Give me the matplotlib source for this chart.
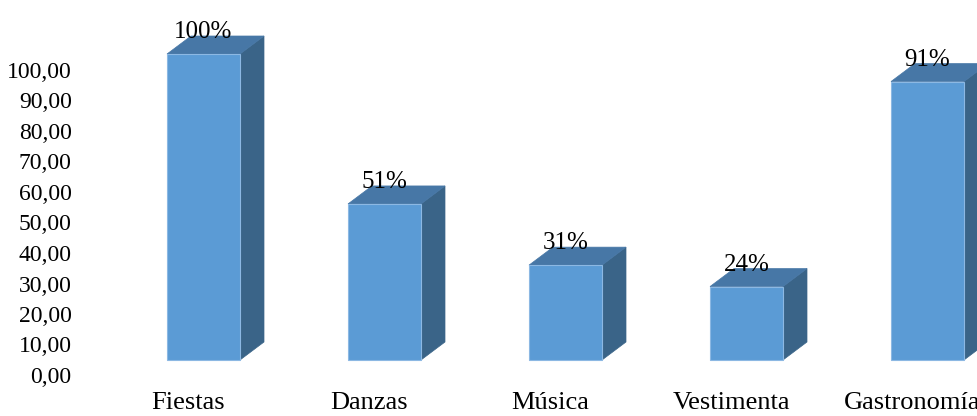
import matplotlib
matplotlib.use("Agg")
import matplotlib.pyplot as plt
from matplotlib.patches import Polygon
from matplotlib.ticker import FuncFormatter

categories = ["Fiestas", "Danzas", "Música", "Vestimenta", "Gastronomía"]
values = [100, 51, 31, 24, 91]
value_labels = ["100%", "51%", "31%", "24%", "91%"]
yticks = [0, 10, 20, 30, 40, 50, 60, 70, 80, 90, 100]

plt.rcParams['font.family'] = ['Liberation Serif', 'DejaVu Serif']

W, H = 978, 416
fig = plt.figure(figsize=(W / 100, H / 100), dpi=100)

# main drawing axes covering the whole figure
ppu = 3.06          # pixels per value unit
cat_px = 181.0      # pixels per category
x0_px = 203.5       # center of first category in px
base_px = 56        # pixel (from bottom) of value 0 front face
ax = fig.add_axes([0, 0, 1, 1])
ax.set_xlim(-x0_px / cat_px, (W - x0_px) / cat_px)
ax.set_ylim(-base_px / ppu, (H - base_px) / ppu)
ax.axis('off')

bw = 73 / cat_px
dx = 24 / cat_px
dy = 18 / ppu

front_c = '#5B9BD5'
top_c = '#4777A6'
side_c = '#3A6488'
edge_c = '#8CB8E3'

for i, v in enumerate(values):
    xl, xr = i - bw / 2, i + bw / 2
    side = Polygon([(xr, 0), (xr + dx, dy), (xr + dx, v + dy), (xr, v)],
                   closed=True, facecolor=side_c, edgecolor=side_c, lw=0.5)
    top = Polygon([(xl, v), (xr, v), (xr + dx, v + dy), (xl + dx, v + dy)],
                  closed=True, facecolor=top_c, edgecolor=top_c, lw=0.5)
    front = Polygon([(xl, 0), (xr, 0), (xr, v), (xl, v)],
                    closed=True, facecolor=front_c, edgecolor=edge_c, lw=0.8)
    ax.add_patch(side)
    ax.add_patch(top)
    ax.add_patch(front)
    ax.text(i, v + 22 / ppu, value_labels[i], ha='center', va='center',
            fontsize=18, color='black')
    ax.text(i - 15 / cat_px, -43 / ppu, categories[i], ha='center', va='center',
            fontsize=19, color='black')

# value axis (offset like the reference's back wall)
ax2 = fig.add_axes([80 / W, 41 / H, 0.0005, 3.05 * 100 / H])
ax2.set_ylim(0, 100)
ax2.set_yticks(yticks)
ax2.yaxis.set_major_formatter(FuncFormatter(lambda v, p: f"{v:.2f}".replace('.', ',')))
ax2.set_xticks([])
for s in ax2.spines.values():
    s.set_visible(False)
ax2.tick_params(axis='y', length=0, pad=6, labelsize=17)
ax2.patch.set_alpha(0)

fig.savefig("out.png", dpi=100)
